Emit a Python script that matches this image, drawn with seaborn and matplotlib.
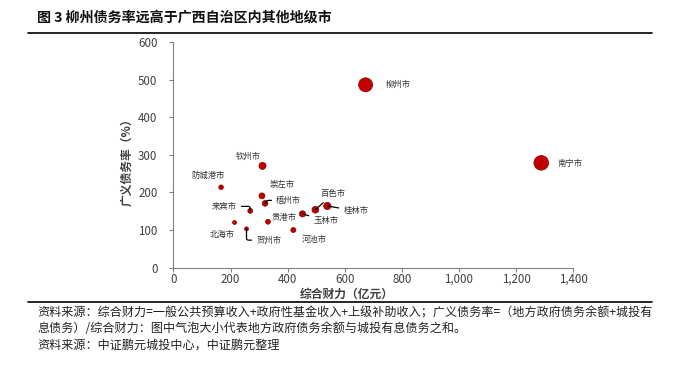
import matplotlib
matplotlib.use("Agg")
import matplotlib.pyplot as plt
import seaborn as sns
import pandas as pd
from matplotlib.ticker import FuncFormatter

sns.set_theme(style="white")
plt.rcParams['font.family'] = ['Noto Sans CJK SC', 'DejaVu Sans']
plt.rcParams['axes.unicode_minus'] = False

cities = ["柳州市", "南宁市", "钦州市", "防城港市", "崇左市", "梧州市", "来宾市",
          "北海市", "贺州市", "贵港市", "河池市", "玉林市", "百色市", "桂林市"]
caili = [673, 1288, 312, 167, 310, 321, 269, 214, 256, 331, 420, 452, 497, 539]
ratio = [487, 279, 271, 214, 191, 171, 151, 120, 103, 122, 100, 143, 154, 164]
debt = [3277, 3594, 846, 357, 592, 549, 406, 257, 264, 404, 420, 646, 766, 884]

x_ticks = [0, 200, 400, 600, 800, 1000, 1200, 1400]
y_ticks = [0, 100, 200, 300, 400, 500, 600]

# label placement (data coords), alignment, leader-line style
label_pos = {
    "柳州市": (745, 487, "left", None),
    "南宁市": (1345, 276, "left", None),
    "钦州市": (262, 297, "center", None),
    "防城港市": (122, 246, "center", None),
    "崇左市": (380, 222, "center", None),
    "梧州市": (360, 179, "left", "angle,angleA=0,angleB=60,rad=2"),
    "来宾市": (222, 163, "right", "angle,angleA=0,angleB=90,rad=2"),
    "北海市": (173, 88, "center", None),
    "贺州市": (290, 73, "left", "angle,angleA=0,angleB=90,rad=2"),
    "贵港市": (387, 134, "center", None),
    "河池市": (492, 75, "center", None),
    "玉林市": (490, 125, "left", "arc3"),
    "百色市": (559, 196, "center", "arc3"),
    "桂林市": (595, 151, "left", "arc3"),
}

df = pd.DataFrame({"city": cities, "x": caili, "y": ratio, "debt": debt})

fig = plt.figure(figsize=(6.8, 3.69), dpi=100)
ax = fig.add_axes([0.255, 0.275, 0.588, 0.61])

k = 0.031
sns.scatterplot(data=df, x="x", y="y", size="debt", sizes=(0, 3700 * k),
                size_norm=(0, 3700), color="#C00000", edgecolor="#8B0000",
                linewidth=0.5, legend=False, ax=ax, zorder=3)

ax.set_xlim(0, 1400)
ax.set_ylim(0, 600)
ax.set_xticks(x_ticks)
ax.set_yticks(y_ticks)
ax.xaxis.set_major_formatter(FuncFormatter(lambda v, p: f"{int(v):,}"))

for s in ["top", "right"]:
    ax.spines[s].set_visible(False)
for s in ["left", "bottom"]:
    ax.spines[s].set_color("#808080")
    ax.spines[s].set_linewidth(0.8)
ax.tick_params(axis="both", which="major", length=3, width=0.8, color="#808080",
               direction="out", labelsize=8.3, labelcolor="#404040")
ax.tick_params(axis="x", bottom=True, pad=1)
ax.tick_params(axis="y", left=True, pad=8.5)

ax.set_xlabel("综合财力（亿元）", fontsize=8.5, color="#404040", fontweight="bold", va="center")
ax.set_ylabel("广义债务率（%）", fontsize=8.5, color="#404040", fontweight="bold", va="center")
ax.xaxis.set_label_coords(0.434, -0.118)
ax.yaxis.set_label_coords(-0.116, 0.48)

for c, xv, yv in zip(cities, caili, ratio):
    lx, ly, ha, conn = label_pos[c]
    if conn is None:
        ax.text(lx, ly, c, ha=ha, va="center", fontsize=6, color="#333333", clip_on=False)
    else:
        ax.annotate(c, xy=(xv, yv), xytext=(lx, ly), ha=ha, va="center",
                    fontsize=6, color="#333333",
                    arrowprops=dict(arrowstyle="-", color="black", lw=0.9,
                                    connectionstyle=conn, shrinkA=1, shrinkB=0))

# title and rules
fig.text(37 / 680, 1 - 18 / 369, "图 3 柳州债务率远高于广西自治区内其他地级市",
         fontsize=10.1, fontweight="bold", color="#111111", va="center", ha="left")
fig.add_artist(plt.Line2D([28 / 680, 652 / 680], [1 - 33 / 369, 1 - 33 / 369],
                          color="black", lw=1.2))
fig.add_artist(plt.Line2D([28 / 680, 652 / 680], [1 - 302 / 369, 1 - 302 / 369],
                          color="black", lw=1.2))

notes = ["资料来源：综合财力=一般公共预算收入+政府性基金收入+上级补助收入；广义债务率=（地方政府债务余额+城投有",
         "息债务）/综合财力：图中气泡大小代表地方政府债务余额与城投有息债务之和。",
         "资料来源：中证鹏元城投中心，中证鹏元整理"]
for i, t in enumerate(notes):
    fig.text(37 / 680, 1 - (313 + i * 16) / 369, t, fontsize=8.7, color="#222222",
             va="center", ha="left")

fig.savefig("out.png", dpi=100)
